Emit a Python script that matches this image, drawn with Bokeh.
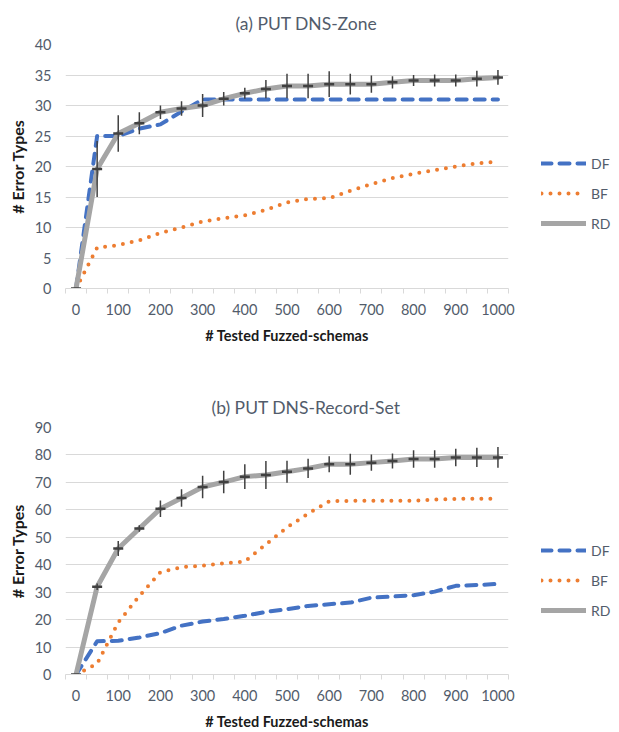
from bokeh.plotting import figure
from bokeh.models import Range1d, FixedTicker, Legend, LegendItem, Title
from bokeh.layouts import column, row
from bokeh.embed import file_html
from bokeh.resources import INLINE

# ---------------- data ----------------
x_vals = [0, 50, 100, 150, 200, 250, 300, 350, 400, 450, 500,
          550, 600, 650, 700, 750, 800, 850, 900, 950, 1000]
x_tick_labels = [0, 100, 200, 300, 400, 500, 600, 700, 800, 900, 1000]
x_bounds = [-25, 25, 75, 125, 175, 225, 275, 325, 375, 425, 475, 525,
            575, 625, 675, 725, 775, 825, 875, 925, 975, 1025]

# (a) PUT DNS-Zone
zone_df = [0, 25, 25, 26.2, 26.9, 29.0, 31, 31, 31, 31, 31,
           31, 31, 31, 31, 31, 31, 31, 31, 31, 31]
zone_bf = [0, 6.7, 7.1, 7.9, 9.1, 10.0, 11.0, 11.5, 12.0, 12.9, 14.1,
           14.7, 14.8, 16.0, 17.1, 18.1, 18.8, 19.4, 20.0, 20.5, 20.8]
zone_rd = [0, 19.6, 25.4, 27.1, 28.9, 29.5, 30.0, 31.1, 32.0, 32.7, 33.2,
           33.2, 33.5, 33.5, 33.5, 33.8, 34.1, 34.1, 34.1, 34.4, 34.6]
zone_rd_err = [0, 4.6, 3.0, 1.8, 1.1, 1.2, 1.9, 1.1, 0.9, 1.5, 2.0,
               2.0, 2.1, 1.7, 1.4, 1.0, 0.9, 1.0, 1.0, 1.3, 1.2]
zone_y_ticks = [0, 5, 10, 15, 20, 25, 30, 35, 40]

# (b) PUT DNS-Record-Set
rs_df = [0, 12.1, 12.3, 13.5, 15.1, 17.8, 19.3, 20.2, 21.4, 22.8, 23.8,
         25.0, 25.6, 26.2, 28.0, 28.4, 28.9, 30.2, 32.3, 32.6, 33.0]
rs_bf = [0, 3.9, 19.0, 28.6, 37.3, 39.1, 39.7, 40.5, 41.2, 47.4, 53.6,
         58.6, 63.1, 63.3, 63.3, 63.3, 63.3, 63.7, 64.0, 64.0, 64.0]
rs_rd = [0, 32.0, 45.9, 53.2, 60.4, 64.3, 68.3, 70.1, 72.1, 72.7, 73.9,
         75.1, 76.6, 76.6, 77.2, 77.8, 78.5, 78.5, 79.1, 79.1, 79.1]
rs_rd_err = [0, 1.2, 2.7, 1.2, 3.0, 3.2, 4.1, 4.1, 4.5, 5.1, 4.0,
             3.5, 2.9, 3.8, 3.0, 2.7, 3.2, 3.2, 3.2, 3.5, 3.8]
rs_y_ticks = [0, 10, 20, 30, 40, 50, 60, 70, 80, 90]

series_names = ["DF", "BF", "RD"]

# ---------------- style ----------------
FONT = "Lato"
TXT = "#525C6B"
GRID = "#D9D9D9"
C_DF = "#4472C4"
C_BF = "#ED7D31"
C_RD = "#A5A5A5"
C_ERR = "#404040"

MAIN_W = 523
LEG_W = 619 - MAIN_W

STYLE_DF = dict(line_color=C_DF, line_width=4, line_dash="10 8",
                line_cap="round", line_join="round")
STYLE_BF = dict(line_color=C_BF, line_width=4, line_dash="0 9",
                line_cap="round", line_join="round")
STYLE_RD = dict(line_color=C_RD, line_width=5, line_cap="round", line_join="round")


def make_chart(title, title_offset, df, bf, rd, err, yticks, ymax, height,
               b_top, b_bottom, title_standoff):
    p = figure(width=MAIN_W, height=height, output_backend="svg", toolbar_location=None,
               x_range=Range1d(-25, 1025), y_range=Range1d(0, ymax),
               min_border_left=65, min_border_right=MAIN_W - 508,
               min_border_top=b_top, min_border_bottom=b_bottom)
    p.outline_line_color = None
    p.background_fill_color = "white"
    p.border_fill_color = "white"

    t = Title(text=title, align="left", offset=title_offset, standoff=title_standoff,
              text_font=FONT, text_font_size="17.5px", text_font_style="normal",
              text_color=TXT)
    p.add_layout(t, "above")

    # x axis
    xa = p.xaxis[0]
    xa.ticker = FixedTicker(ticks=x_tick_labels, minor_ticks=x_bounds)
    xa.axis_line_color = GRID
    xa.major_tick_line_color = None
    xa.major_tick_out = 0
    xa.major_tick_in = 0
    xa.minor_tick_line_color = GRID
    xa.minor_tick_out = 5
    xa.minor_tick_in = 0
    xa.major_label_standoff = 10
    xa.major_label_text_font = FONT
    xa.major_label_text_font_size = "14.5px"
    xa.major_label_text_color = TXT
    xa.axis_label = "# Tested Fuzzed-schemas"
    xa.axis_label_text_font = FONT
    xa.axis_label_text_font_size = "14.5px"
    xa.axis_label_text_font_style = "bold"
    xa.axis_label_text_color = "#1A1A1A"
    xa.axis_label_standoff = 9

    # y axis
    ya = p.yaxis[0]
    ya.ticker = FixedTicker(ticks=yticks)
    ya.axis_line_color = None
    ya.major_tick_line_color = None
    ya.minor_tick_line_color = None
    ya.major_tick_out = 0
    ya.major_tick_in = 0
    ya.major_label_standoff = 14
    ya.major_label_text_font = FONT
    ya.major_label_text_font_size = "14.5px"
    ya.major_label_text_color = TXT
    ya.axis_label = "# Error Types"
    ya.axis_label_text_font = FONT
    ya.axis_label_text_font_size = "16px"
    ya.axis_label_text_font_style = "bold"
    ya.axis_label_text_color = "#1A1A1A"
    ya.axis_label_standoff = 5

    p.xgrid.grid_line_color = None
    p.ygrid.grid_line_color = GRID
    p.ygrid.grid_line_width = 1

    p.line(x_vals, df, **STYLE_DF)
    p.line(x_vals, bf, **STYLE_BF)
    p.line(x_vals, rd, **STYLE_RD)
    lo = [v - e for v, e in zip(rd, err)]
    hi = [v + e for v, e in zip(rd, err)]
    p.segment(x0=x_vals, y0=lo, x1=x_vals, y1=hi, line_color=C_ERR, line_width=1.5)
    p.scatter(x_vals, rd, marker="dash", size=10, line_color=C_ERR, line_width=2.5)
    return p


def make_legend(height, df, bf, rd, show=True):
    # separate legend strip; its ranges lie outside the data so only the legend shows
    q = figure(width=LEG_W, height=height, output_backend="svg", toolbar_location=None,
               x_range=Range1d(5000, 6000), y_range=Range1d(5000, 6000),
               x_axis_type=None, y_axis_type=None,
               min_border=0, min_border_left=0, min_border_right=0,
               min_border_top=0, min_border_bottom=0)
    q.outline_line_color = None
    q.xgrid.visible = False
    q.ygrid.visible = False
    q.background_fill_color = "white"
    q.border_fill_color = "white"
    if show:
        r_df = q.line(x_vals, df, **STYLE_DF)
        r_bf = q.line(x_vals, bf, **STYLE_BF)
        r_rd = q.line(x_vals, rd, **STYLE_RD)
        legend = Legend(items=[LegendItem(label=series_names[0], renderers=[r_df]),
                               LegendItem(label=series_names[1], renderers=[r_bf]),
                               LegendItem(label=series_names[2], renderers=[r_rd])],
                        location="left", orientation="vertical",
                        padding=0, margin=541 - MAIN_W, spacing=10,
                        glyph_width=45, glyph_height=20, label_height=20,
                        label_standoff=5, border_line_color=None,
                        background_fill_alpha=0,
                        label_text_font=FONT, label_text_font_size="14px",
                        label_text_color=TXT)
        q.add_layout(legend)
    return q


p1 = make_chart("(a) PUT DNS-Zone", 170, zone_df, zone_bf, zone_rd, zone_rd_err,
                zone_y_ticks, 40, 366, 41, 78, 21)
p2 = make_chart("(b) PUT DNS-Record-Set", 146, rs_df, rs_bf, rs_rd, rs_rd_err,
                rs_y_ticks, 90, 366, 61, 56, 20)
# legend strips: centres at y=193 (top chart) and y=580 (bottom chart)
l1 = make_legend(386, zone_df, zone_bf, zone_rd)
gap = make_legend(42, zone_df, zone_bf, zone_rd, show=False)
l2 = make_legend(304, rs_df, rs_bf, rs_rd)

layout = row(column(p1, p2, spacing=0), column(l1, gap, l2, spacing=0), spacing=0)
open("out.html", "w").write(file_html(layout, INLINE))
